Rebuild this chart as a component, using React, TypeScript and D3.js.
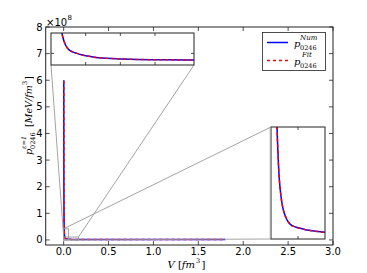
import * as d3 from "d3";

// volume samples [fm^3] and pressures [x1e8 MeV/fm^3]
const V = [
  0.0016, 0.002, 0.0025, 0.003, 0.004, 0.005, 0.006, 0.007, 0.008, 0.01,
  0.012, 0.014, 0.016, 0.018, 0.02, 0.025, 0.03, 0.035, 0.04, 0.05, 0.06,
  0.08, 0.1, 0.13, 0.16, 0.2, 0.3, 0.5, 0.8, 1.2, 1.8,
];
const pNum = [
  6.0, 3.9, 2.5, 1.73, 0.98, 0.63, 0.44, 0.33, 0.25, 0.165, 0.118, 0.092,
  0.074, 0.062, 0.054, 0.045, 0.04, 0.035, 0.032, 0.027, 0.024, 0.021, 0.019,
  0.018, 0.017, 0.016, 0.015, 0.014, 0.013, 0.012, 0.012,
];
const pFit = [
  5.98, 3.91, 2.49, 1.72, 0.98, 0.63, 0.44, 0.33, 0.25, 0.166, 0.118, 0.092,
  0.074, 0.062, 0.054, 0.045, 0.04, 0.035, 0.032, 0.027, 0.024, 0.021, 0.019,
  0.018, 0.017, 0.016, 0.015, 0.014, 0.013, 0.012, 0.012,
];

const xTicks = [0, 0.5, 1.0, 1.5, 2.0, 2.5, 3.0];
const yTicks = [0, 1, 2, 3, 4, 5, 6, 7, 8];
const inset1XTicks = [0.04, 0.08, 0.12];
const inset1YTicks = [0.04];
const inset2XTicks = [0.0275];

const FONT = "DejaVu Sans";
const SERIF = "DejaVu Serif";
const AX = "#222";

export default function App() {
  // main axes
  const x = d3.scaleLinear().domain([-0.2, 3.0]).range([45.7, 333]);
  const y = d3.scaleLinear().domain([-0.19, 8]).range([245, 27]);

  // zoomed insets
  const ix1 = d3.scaleLinear().domain([0, 0.165]).range([51, 194]);
  const iy1 = d3.scaleLinear().domain([0, 0.11]).range([65, 33]);
  const ix2 = d3.scaleLinear().domain([0, 0.055]).range([271, 325]);
  const iy2 = d3.scaleLinear().domain([0, 0.42]).range([239, 127]);

  const pts = (p: number[]) => V.map((v, i) => [v, p[i]] as [number, number]);
  const mk = (sx: d3.ScaleLinear<number, number>, sy: d3.ScaleLinear<number, number>) =>
    d3.line<[number, number]>().x((d) => sx(d[0])).y((d) => sy(d[1])).curve(d3.curveMonotoneX);

  const series = (sx: any, sy: any, clip: string) => (
    <g clipPath={`url(#${clip})`}>
      <path d={mk(sx, sy)(pts(pNum)) || ""} fill="none" stroke="#0000ff" strokeWidth={1.5} />
      <path d={mk(sx, sy)(pts(pFit)) || ""} fill="none" stroke="#ff0000" strokeWidth={1.5} strokeDasharray="3,3" />
    </g>
  );

  const box = (sx: any, sy: any) => {
    const [x0, x1] = sx.range();
    const [y0, y1] = sy.range();
    return { x0, x1, y0: y1, y1: y0 }; // y0 top, y1 bottom
  };
  const b1 = box(ix1, iy1);
  const b2 = box(ix2, iy2);

  // zoom regions inside main axes
  const r1 = { x0: x(0), x1: x(0.165), y0: y(0.11), y1: y(0) };
  const r2 = { x0: x(0), x1: x(0.055), y0: y(0.42), y1: y(0) };

  const insetTicks = (b: any, sx: any, sy: any, xt: number[], yt: number[]) => (
    <g stroke={AX} strokeWidth={0.8}>
      {xt.map((t) => (
        <g key={"x" + t}>
          <line x1={sx(t)} x2={sx(t)} y1={b.y1} y2={b.y1 - 3} />
          <line x1={sx(t)} x2={sx(t)} y1={b.y0} y2={b.y0 + 3} />
        </g>
      ))}
      {yt.map((t) => (
        <g key={"y" + t}>
          <line x1={b.x0} x2={b.x0 + 3} y1={sy(t)} y2={sy(t)} />
          <line x1={b.x1} x2={b.x1 - 3} y1={sy(t)} y2={sy(t)} />
        </g>
      ))}
    </g>
  );

  const [mx0, mx1] = x.range();
  const [my1, my0] = y.range();

  return (
    <svg width={367} height={273} style={{ position: "absolute", left: 0, top: 0, background: "#fff" }}>
      <defs>
        <clipPath id="cm">
          <rect x={mx0} y={my0} width={mx1 - mx0} height={my1 - my0} />
        </clipPath>
        <clipPath id="c1">
          <rect x={b1.x0} y={b1.y0} width={b1.x1 - b1.x0} height={b1.y1 - b1.y0} />
        </clipPath>
        <clipPath id="c2">
          <rect x={b2.x0} y={b2.y0} width={b2.x1 - b2.x0} height={b2.y1 - b2.y0} />
        </clipPath>
      </defs>
      <rect width={367} height={273} fill="#fff" />

      {/* main data */}
      {series(x, y, "cm")}

      {/* zoom region boxes and connectors */}
      <g stroke="#999" strokeWidth={0.9} fill="none">
        <rect x={r1.x0} y={r1.y0} width={r1.x1 - r1.x0} height={r1.y1 - r1.y0} />
        <rect x={r2.x0} y={r2.y0} width={r2.x1 - r2.x0} height={r2.y1 - r2.y0} />
        <line x1={b1.x0} y1={b1.y1} x2={r1.x0} y2={r1.y0} />
        <line x1={b1.x1} y1={b1.y1} x2={r1.x1} y2={r1.y0} />
        <line x1={b2.x0} y1={b2.y0} x2={r2.x0} y2={r2.y0} />
        <line x1={b2.x0} y1={b2.y1} x2={r2.x0} y2={r2.y1} />
      </g>

      {/* main frame & ticks */}
      <rect x={mx0} y={my0} width={mx1 - mx0} height={my1 - my0} fill="none" stroke={AX} strokeWidth={1} />
      <g stroke={AX} strokeWidth={0.8}>
        {xTicks.map((t) => (
          <g key={t}>
            <line x1={x(t)} x2={x(t)} y1={my1} y2={my1 - 4} />
            <line x1={x(t)} x2={x(t)} y1={my0} y2={my0 + 4} />
          </g>
        ))}
        {yTicks.map((t) => (
          <g key={t}>
            <line x1={mx0} x2={mx0 + 4} y1={y(t)} y2={y(t)} />
            <line x1={mx1} x2={mx1 - 4} y1={y(t)} y2={y(t)} />
          </g>
        ))}
      </g>
      <g fontFamily={FONT} fontSize={10} fill="#000">
        {xTicks.map((t) => (
          <text key={t} x={x(t)} y={my1 + 10} textAnchor="middle">
            {t.toFixed(1)}
          </text>
        ))}
        {yTicks.map((t) => (
          <text key={t} x={mx0 - 3} y={y(t) + 3.5} textAnchor="end">
            {t}
          </text>
        ))}
        <text x={46} y={26}>×10</text>
        <text x={67.5} y={20} fontSize={7}>8</text>
      </g>

      {/* inset 1 */}
      <rect x={b1.x0} y={b1.y0} width={b1.x1 - b1.x0} height={b1.y1 - b1.y0} fill="#fff" stroke="none" />
      {series(ix1, iy1, "c1")}
      <rect x={b1.x0} y={b1.y0} width={b1.x1 - b1.x0} height={b1.y1 - b1.y0} fill="none" stroke={AX} strokeWidth={1} />
      {insetTicks(b1, ix1, iy1, inset1XTicks, inset1YTicks)}

      {/* inset 2 */}
      <rect x={b2.x0} y={b2.y0} width={b2.x1 - b2.x0} height={b2.y1 - b2.y0} fill="#fff" stroke="none" />
      {series(ix2, iy2, "c2")}
      <rect x={b2.x0} y={b2.y0} width={b2.x1 - b2.x0} height={b2.y1 - b2.y0} fill="none" stroke={AX} strokeWidth={1} />
      <line x1={b2.x0 - 0.8} x2={b2.x0 - 0.8} y1={b2.y0} y2={b2.y1} stroke="#aaa" strokeWidth={1} />
      {insetTicks(b2, ix2, iy2, inset2XTicks, [])}

      {/* legend */}
      <rect x={262.5} y={32.5} width={63} height={38} fill="#fff" stroke={AX} strokeWidth={0.8} />
      <line x1={267} x2={288} y1={42.5} y2={42.5} stroke="#0000ff" strokeWidth={1.5} />
      <line x1={267} x2={288} y1={60.5} y2={60.5} stroke="#ff0000" strokeWidth={1.5} strokeDasharray="3,3" />
      <g fontFamily={SERIF} fill="#000">
        <text x={294} y={47} fontSize={10} fontStyle="italic">p</text>
        <text x={300} y={40} fontSize={7} fontStyle="italic">Num</text>
        <text x={300} y={50} fontSize={6.5}>0246</text>
        <text x={294} y={65} fontSize={10} fontStyle="italic">p</text>
        <text x={302} y={57} fontSize={7} fontStyle="italic">Fit</text>
        <text x={300} y={68} fontSize={6.5}>0246</text>
      </g>

      {/* axis labels */}
      <g fontFamily={SERIF} fill="#000">
        <text x={195} y={268} textAnchor="end" fontSize={10}>
          <tspan fontStyle="italic">V</tspan> [<tspan fontStyle="italic">fm</tspan>
        </text>
        <text x={196} y={263} fontSize={6.5}>3</text>
        <text x={201.5} y={268} fontSize={10}>]</text>
      </g>
      <g transform="translate(32,155) rotate(-90)" fontFamily={SERIF} fill="#000">
        <text x={0} y={0} fontSize={10} fontStyle="italic">p</text>
        <text x={6} y={-6} fontSize={6.5} fontStyle="italic">ε=1</text>
        <text x={6} y={3} fontSize={6.5}>0246</text>
        <text x={28} y={0} fontSize={9.5}>
          [<tspan fontStyle="italic">MeV/fm</tspan>
        </text>
        <text x={70} y={-5} fontSize={6.5}>3</text>
        <text x={75} y={0} fontSize={9.5}>]</text>
      </g>
    </svg>
  );
}
